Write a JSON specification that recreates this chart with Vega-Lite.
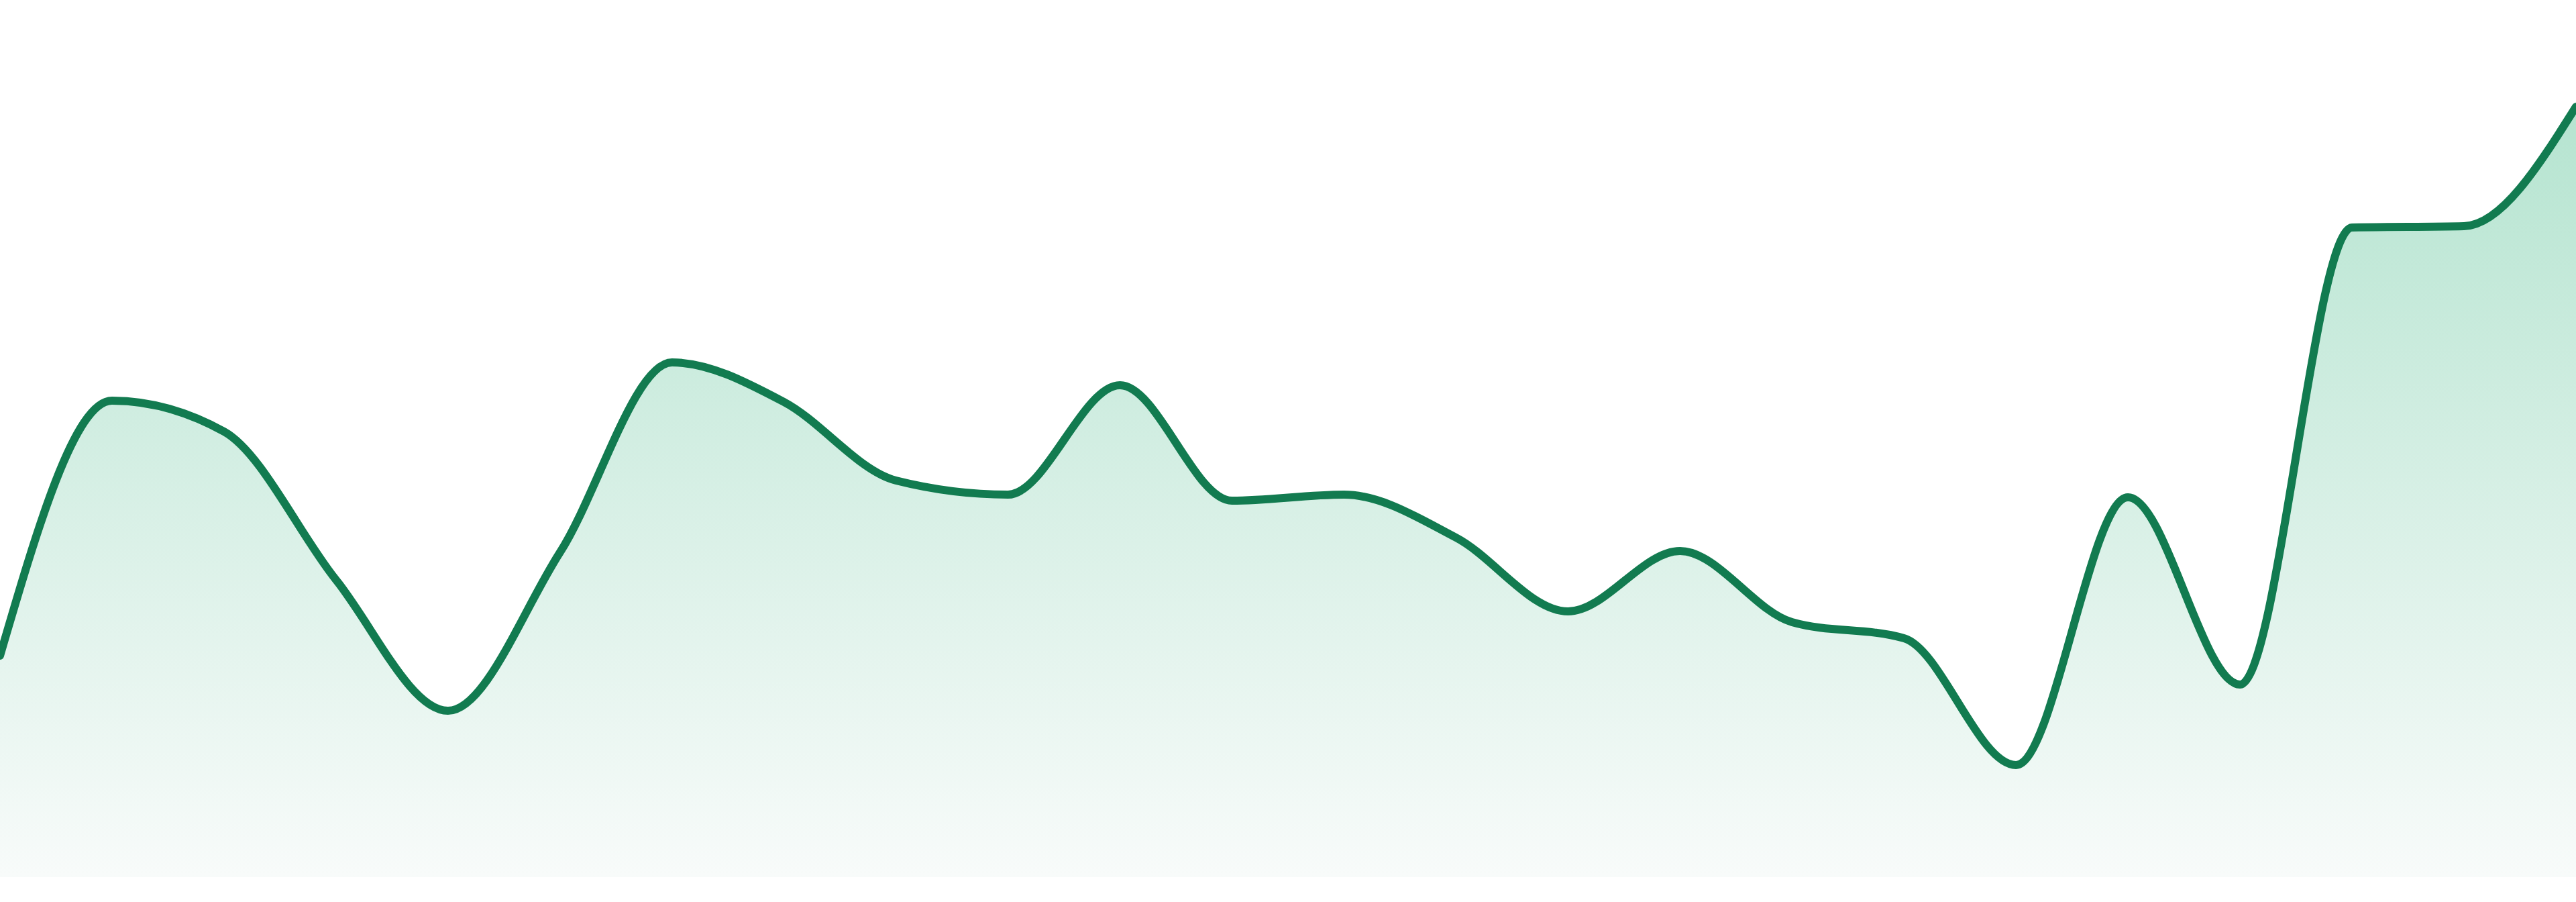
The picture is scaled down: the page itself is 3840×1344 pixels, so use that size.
{
  "$schema": "https://vega.github.io/schema/vega-lite/v6.json",
  "width": 3840,
  "height": 1307,
  "autosize": "none",
  "padding": {"left": 0, "right": 0, "top": 0, "bottom": 37},
  "background": "white",
  "data": {
    "values": [
      {"day": 0, "price": 330},
      {"day": 1, "price": 710},
      {"day": 2, "price": 664},
      {"day": 3, "price": 443},
      {"day": 4, "price": 248},
      {"day": 5, "price": 484},
      {"day": 6, "price": 767},
      {"day": 7, "price": 708},
      {"day": 8, "price": 591},
      {"day": 9, "price": 570},
      {"day": 10, "price": 733},
      {"day": 11, "price": 561},
      {"day": 12, "price": 570},
      {"day": 13, "price": 506},
      {"day": 14, "price": 396},
      {"day": 15, "price": 486},
      {"day": 16, "price": 380},
      {"day": 17, "price": 356},
      {"day": 18, "price": 167},
      {"day": 19, "price": 566},
      {"day": 20, "price": 287},
      {"day": 21, "price": 968},
      {"day": 22, "price": 970},
      {"day": 23, "price": 1148}
    ]
  },
  "encoding": {
    "x": {
      "field": "day",
      "type": "quantitative",
      "scale": {"domain": [0, 23], "nice": false, "zero": false},
      "axis": null
    },
    "y": {
      "field": "price",
      "type": "quantitative",
      "scale": {"domain": [0, 1307], "nice": false},
      "axis": null
    }
  },
  "layer": [
    {
      "mark": {
        "type": "area",
        "interpolate": "monotone",
        "color": {
          "gradient": "linear",
          "x1": 0, "y1": 0, "x2": 0, "y2": 1,
          "stops": [
            {"offset": 0, "color": "#b5e4d0"},
            {"offset": 1, "color": "#f8fbfa"}
          ]
        }
      }
    },
    {
      "mark": {
        "type": "line",
        "interpolate": "monotone",
        "color": "#127b50",
        "strokeWidth": 12,
        "strokeCap": "round"
      }
    }
  ],
  "config": {
    "view": {"stroke": null}
  }
}
